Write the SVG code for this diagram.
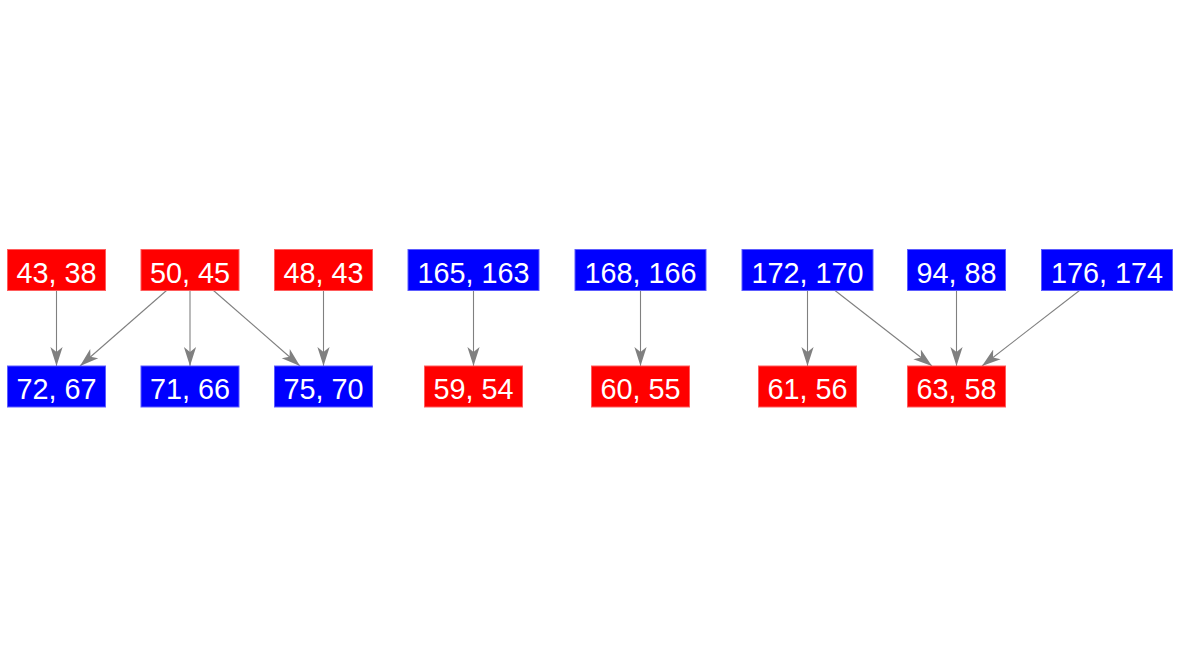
<svg xmlns="http://www.w3.org/2000/svg" width="1179" height="656" viewBox="0 0 1179 656">
<style>
.r{fill:#ff0000;stroke:#ff5c5c;stroke-width:1}
.b{fill:#0000ff;stroke:#5c5cff;stroke-width:1}
.t{fill:#ffffff;font-family:"Liberation Sans",Arial,sans-serif;font-size:28.8px;text-anchor:middle}
.e{stroke:#808080;stroke-width:1.1;fill:none;marker-end:url(#ah)}
</style>
<defs>
<marker id="ah" markerUnits="userSpaceOnUse" markerWidth="20" markerHeight="14" viewBox="-17 -6 18 12" refX="0" refY="0" orient="auto">
<path d="M0,0 L-17,-5.5 L-12.5,0 L-17,5.5 Z" fill="#808080"/>
</marker>
</defs>
<rect width="1179" height="656" fill="#ffffff"/>
<g id="edges">
<line class="e" x1="56.5" y1="290.5" x2="56.5" y2="366"/>
<line class="e" x1="166.5" y1="290.5" x2="80" y2="366"/>
<line class="e" x1="190" y1="290.5" x2="190" y2="366"/>
<line class="e" x1="213.5" y1="290.5" x2="300" y2="366"/>
<line class="e" x1="323.5" y1="290.5" x2="323.5" y2="366"/>
<line class="e" x1="473.5" y1="290.5" x2="473.5" y2="366"/>
<line class="e" x1="640.5" y1="290.5" x2="640.5" y2="366"/>
<line class="e" x1="807.5" y1="290.5" x2="807.5" y2="366"/>
<line class="e" x1="835" y1="290.5" x2="932" y2="366"/>
<line class="e" x1="956.5" y1="290.5" x2="956.5" y2="366"/>
<line class="e" x1="1079.5" y1="290.5" x2="982" y2="366"/>
</g>
<g id="n4338"><rect class="r" x="7.5" y="249.5" width="98" height="41"/><text class="t" x="56.5" y="282.5">43, 38</text></g>
<g id="n5045"><rect class="r" x="141" y="249.5" width="98" height="41"/><text class="t" x="190" y="282.5">50, 45</text></g>
<g id="n4843"><rect class="r" x="274.5" y="249.5" width="98" height="41"/><text class="t" x="323.5" y="282.5">48, 43</text></g>
<g id="n165163"><rect class="b" x="408" y="249.5" width="131" height="41"/><text class="t" x="473.5" y="282.5">165, 163</text></g>
<g id="n168166"><rect class="b" x="575" y="249.5" width="131" height="41"/><text class="t" x="640.5" y="282.5">168, 166</text></g>
<g id="n172170"><rect class="b" x="742" y="249.5" width="131" height="41"/><text class="t" x="807.5" y="282.5">172, 170</text></g>
<g id="n9488"><rect class="b" x="907.5" y="249.5" width="98" height="41"/><text class="t" x="956.5" y="282.5">94, 88</text></g>
<g id="n176174"><rect class="b" x="1041.5" y="249.5" width="131" height="41"/><text class="t" x="1107" y="282.5">176, 174</text></g>
<g id="n7267"><rect class="b" x="7.5" y="366" width="98" height="41"/><text class="t" x="56.5" y="399">72, 67</text></g>
<g id="n7166"><rect class="b" x="141" y="366" width="98" height="41"/><text class="t" x="190" y="399">71, 66</text></g>
<g id="n7570"><rect class="b" x="274.5" y="366" width="98" height="41"/><text class="t" x="323.5" y="399">75, 70</text></g>
<g id="n5954"><rect class="r" x="424.5" y="366" width="98" height="41"/><text class="t" x="473.5" y="399">59, 54</text></g>
<g id="n6055"><rect class="r" x="591.5" y="366" width="98" height="41"/><text class="t" x="640.5" y="399">60, 55</text></g>
<g id="n6156"><rect class="r" x="758.5" y="366" width="98" height="41"/><text class="t" x="807.5" y="399">61, 56</text></g>
<g id="n6358"><rect class="r" x="907.5" y="366" width="98" height="41"/><text class="t" x="956.5" y="399">63, 58</text></g>
</svg>
